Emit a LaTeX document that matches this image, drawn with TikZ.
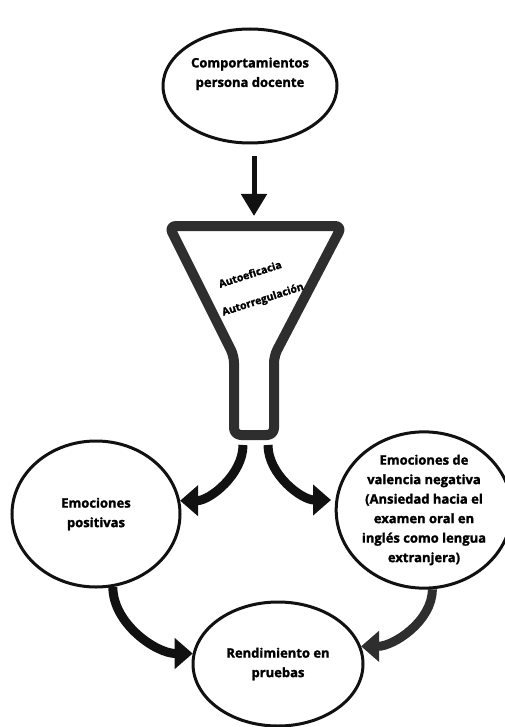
\documentclass[tikz,border=0pt]{standalone}
\usepackage{fontspec}
\setmainfont{Open Sans}[BoldFeatures={FakeBold=1.6}]
\usetikzlibrary{shapes.geometric,arrows.meta,calc}
\definecolor{ink}{HTML}{111111}
\definecolor{inkgray}{HTML}{2E2E2E}
\begin{document}
\begin{tikzpicture}[x=1pt,y=-1pt,
  bubble/.style={ellipse,draw=ink,line width=3pt,inner sep=0pt,align=center,
    font=\fontsize{13}{19.5}\selectfont\bfseries},
  fattip/.style={-{Triangle[width=30pt,length=18pt]},line width=9pt,ink},
  funneltext/.style={rotate=18,inner sep=0pt,font=\fontsize{10.5}{12}\selectfont\bfseries}]
\useasboundingbox[fill=white] (0,0) rectangle (504,727);

% ovals
\node[bubble,minimum width=174pt,minimum height=114pt] (teacher) at (250,86)
  {Comportamientos\\persona docente\\[8pt]};
\node[bubble,minimum width=168pt,minimum height=146pt] (pos) at (96,514)
  {Emociones\\positivas};
\node[bubble,minimum width=154pt,minimum height=152pt] (neg) at (424,510)
  {Emociones de\\valencia negativa\\(Ansiedad hacia el\\examen oral en\\inglés como lengua\\extranjera)};
\node[bubble,minimum width=170pt,minimum height=124pt] (perf) at (278,664)
  {Rendimiento en\\pruebas};

% funnel
\draw[inkgray,line width=10pt,line join=round,rounded corners=7pt]
  (169,226) -- (342,226) -- (274,356) -- (274,435) -- (234,435) -- (234,356) -- cycle;
\coordinate (funnelIn) at (254,216);
\coordinate (spoutL) at (243,445);
\coordinate (spoutR) at (268,445);
\coordinate (negIn) at (331,500);
\node[funneltext] (selfeff) at (250,274) {Autoeficacia};
\node[funneltext] (selfreg) at (263,300) {Autorregulación};

% connectors
\draw[-{Triangle[width=25pt,length=22pt]},line width=5pt,ink,shorten <=12pt]
  (teacher.south -| funnelIn) -- (funnelIn);
\draw[fattip] (spoutL) to[out=-90,in=0,looseness=0.9] (pos.9);
\draw[fattip] (spoutR) to[out=-90,in=180,looseness=0.9] (negIn);
\draw[fattip] (pos.-77) to[out=-90,in=180,looseness=0.9] (perf.173);
\draw[fattip,inkgray] (neg.-84) to[out=-90,in=0,looseness=0.9] (perf.12);
\end{tikzpicture}
\end{document}
